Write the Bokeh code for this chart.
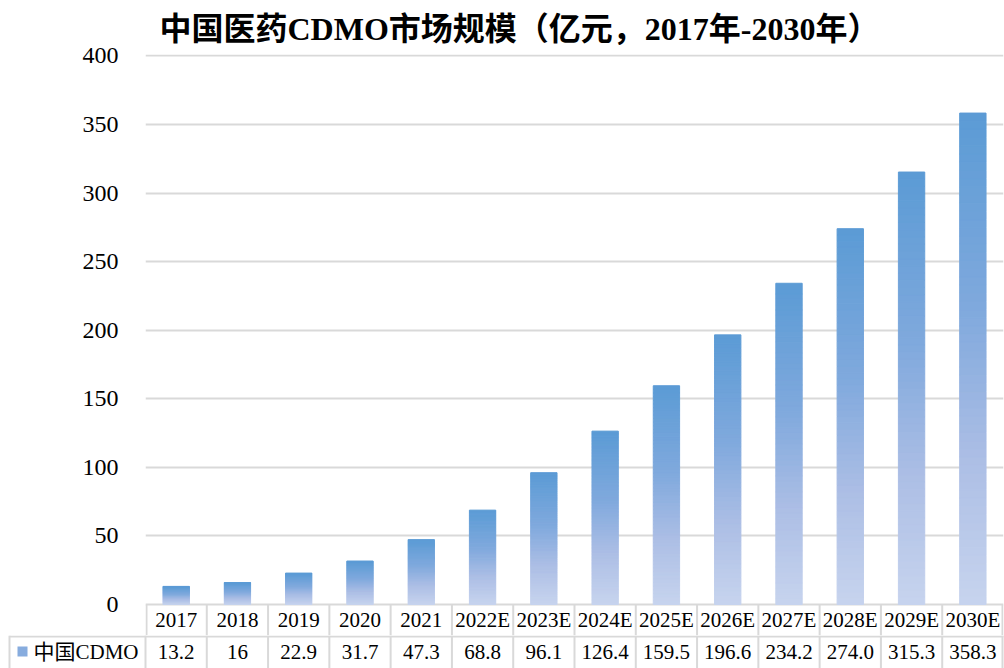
from bokeh.plotting import figure
from bokeh.models import Range1d, FixedTicker, Title, ColumnDataSource
from bokeh.layouts import column
from bokeh.embed import file_html
from bokeh.resources import INLINE
from bokeh.core.properties import value

# ---- data ----
categories = ["2017", "2018", "2019", "2020", "2021", "2022E", "2023E",
              "2024E", "2025E", "2026E", "2027E", "2028E", "2029E", "2030E"]
market_size = [13.2, 16, 22.9, 31.7, 47.3, 68.8, 96.1,
               126.4, 159.5, 196.6, 234.2, 274.0, 315.3, 358.3]
table_labels = ["13.2", "16", "22.9", "31.7", "47.3", "68.8", "96.1",
                "126.4", "159.5", "196.6", "234.2", "274.0", "315.3", "358.3"]
series_name = "中国CDMO"
title_text = "中国医药CDMO市场规模（亿元，2017年-2030年）"
y_ticks = [0, 50, 100, 150, 200, 250, 300, 350, 400]

# ---- style / layout constants ----
FONT = "'Liberation Serif', 'Noto Sans CJK SC'"
W = 1004
LEFT = 145          # frame left (px)
RIGHT = 1           # border right (px)
FRAME_TOP = 54
CH_H = 635          # chart figure height (frame bottom = header-row bottom)
HDR_PX = 31         # header row height (px)
TB_H = 33           # values row figure height
GRID = "#d9d9d9"
stops = [(0.0, (199, 212, 238)), (0.3, (172, 190, 229)),
         (0.6, (128, 169, 221)), (1.0, (91, 155, 213))]


def grad(f):
    for (f0, c0), (f1, c1) in zip(stops[:-1], stops[1:]):
        if f <= f1:
            t = (f - f0) / (f1 - f0)
            return "#%02x%02x%02x" % tuple(int(round(a + (b - a) * t)) for a, b in zip(c0, c1))
    return "#%02x%02x%02x" % stops[-1][1]


n = len(categories)
xs = list(range(n))
cw = (W - LEFT - RIGHT) / n

y_top = 401
frame_h = CH_H - FRAME_TOP
k = (frame_h - HDR_PX) / y_top      # px per unit (approx)
hdr_units = HDR_PX / k

p = figure(width=W, height=CH_H, output_backend="svg", toolbar_location=None,
           x_range=Range1d(-0.5, n - 0.5), y_range=Range1d(-hdr_units, y_top),
           x_axis_type=None, min_border_left=LEFT, min_border_right=RIGHT,
           min_border_bottom=0, min_border_top=FRAME_TOP)
p.frame_align = False
p.outline_line_color = None
p.background_fill_color = "white"
p.xgrid.visible = False
p.ygrid.grid_line_color = GRID
p.ygrid.grid_line_width = 2
p.yaxis.ticker = FixedTicker(ticks=y_ticks)
p.yaxis.axis_line_color = None
p.yaxis.major_tick_line_color = None
p.yaxis.minor_tick_line_color = None
p.yaxis.major_label_standoff = 21
p.yaxis.major_label_text_font = FONT
p.yaxis.major_label_text_font_size = "24px"
p.yaxis.major_label_text_color = "black"

# gradient bars as thin slices
N = 60
bx, bb, bt, bc = [], [], [], []
for x, v in zip(xs, market_size):
    for j in range(N):
        bx.append(x)
        bb.append(v * j / N)
        bt.append(v * (j + 1) / N)
        bc.append(grad((j + 0.5) / N))
src = ColumnDataSource(dict(x=bx, bottom=bb, top=bt, color=bc))
p.vbar(x="x", bottom="bottom", top="top", width=0.43, source=src,
       fill_color="color", line_color="color", line_width=1)

# header row of data table (inside chart frame, below zero)
vx = [i - 0.5 for i in range(n + 1)]
vx[0] += 1 / cw
vx[-1] -= 1 / cw
p.segment(x0=vx, y0=[0] * len(vx), x1=vx, y1=[-hdr_units] * len(vx),
          line_color=GRID, line_width=2)
p.text(x=xs, y=[-hdr_units / 2] * n, text=categories,
       text_font=value("Liberation Serif"), text_font_size="21px",
       text_align="center", text_baseline="middle", text_color="black")

title = Title(text=title_text, text_font=FONT, text_font_size="32px",
              text_font_style="bold", text_color="black",
              align="left", offset=14, standoff=16)
p.add_layout(title, "above")

# ---- values row ----
left = -0.5 - LEFT / cw
t = figure(width=W, height=TB_H, output_backend="svg", toolbar_location=None,
           x_range=Range1d(left, n - 0.5 + RIGHT / cw), y_range=Range1d(0, TB_H),
           x_axis_type=None, y_axis_type=None,
           min_border_left=0, min_border_right=0, min_border_top=0, min_border_bottom=0)
t.frame_align = False
t.outline_line_color = None
t.xgrid.visible = False
t.ygrid.visible = False

leg_left = left + 9 / cw
t.segment(x0=[leg_left], y0=[TB_H - 1], x1=[n - 0.5], y1=[TB_H - 1],
          line_color=GRID, line_width=2)
vx2 = [leg_left] + [i - 0.5 for i in range(n + 1)]
vx2[-1] -= 1 / cw
t.segment(x0=vx2, y0=[0] * len(vx2), x1=vx2, y1=[TB_H] * len(vx2),
          line_color=GRID, line_width=2)

val_y = TB_H - 16
t.text(x=xs, y=[val_y] * n, text=table_labels,
       text_font=value("Liberation Serif"), text_font_size="21px",
       text_align="center", text_baseline="middle", text_color="black")

# legend key and label
t.scatter(x=[left + 22 / cw], y=[val_y], marker="square", size=10,
          fill_color=grad(0.55), line_color=None)
t.text(x=[left + 33 / cw], y=[val_y], text=[series_name],
       text_font=value(FONT), text_font_size="21px",
       text_align="left", text_baseline="middle", text_color="black")

layout = column(p, t, spacing=0)
open("out.html", "w").write(file_html(layout, INLINE))
